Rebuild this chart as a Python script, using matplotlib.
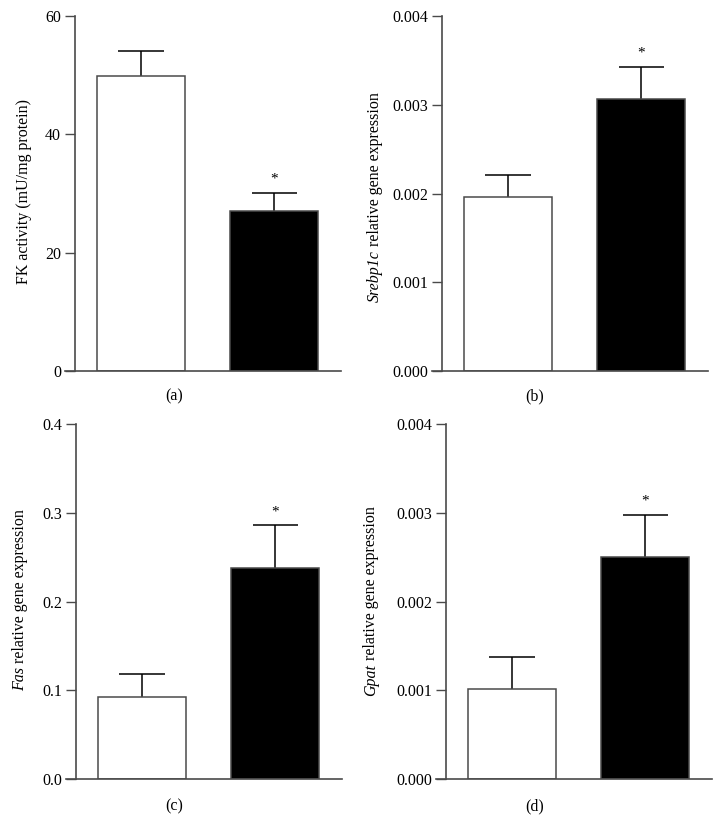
import matplotlib.pyplot as plt

plt.rcParams["font.family"] = ["Liberation Serif", "DejaVu Serif"]

# two groups per panel: control (white), treated (black)
fk_mean = [49.8, 27.0]
fk_err = [4.3, 3.1]

srebp_mean = [0.00196, 0.00306]
srebp_err = [0.00025, 0.00037]

fas_mean = [0.092, 0.238]
fas_err = [0.026, 0.048]

gpat_mean = [0.00101, 0.00250]
gpat_err = [0.00037, 0.00048]

panels = [
    ("(a)", fk_mean, fk_err, 60, [0, 20, 40, 60], "%d",
     "", "FK activity (mU/mg protein)"),
    ("(b)", srebp_mean, srebp_err, 0.004, [0, 0.001, 0.002, 0.003, 0.004], "%.3f",
     "Srebp1c", " relative gene expression"),
    ("(c)", fas_mean, fas_err, 0.4, [0, 0.1, 0.2, 0.3, 0.4], "%.1f",
     "Fas", " relative gene expression"),
    ("(d)", gpat_mean, gpat_err, 0.004, [0, 0.001, 0.002, 0.003, 0.004], "%.3f",
     "Gpat", " relative gene expression"),
]

W, H = 722, 839
fig = plt.figure(figsize=(W / 100, H / 100), dpi=100)
renderer = fig.canvas.get_renderer()

# pixel boxes: bottom line left/right, top, bottom, ylabel x/y, caption x/y
boxes = [
    (65, 341, 16, 371, 28, 192, 174, 396),
    (432, 708, 16, 371, 379, 197, 535, 396),
    (66, 342, 424, 779, 24, 600, 174, 806),
    (436, 712, 424, 779, 375, 601, 535, 806),
]

spine_col = "#4a4a4a"


def ylabel(x_px, y_px, ital, rest, size):
    # italic gene name followed by plain text, rotated, baseline at x_px
    kw = dict(rotation=90, rotation_mode="anchor", ha="left", va="baseline",
              fontsize=size)
    t1 = fig.text(0, 0, ital, style="italic", **kw)
    t2 = fig.text(0, 0, rest, **kw)
    l1 = t1.get_window_extent(renderer).height if ital else 0
    l2 = t2.get_window_extent(renderer).height
    start = (H - y_px) - (l1 + l2) / 2
    t1.set_position((x_px / W, start / H))
    t2.set_position((x_px / W, (start + l1) / H))


for (cap, mean, err, top, ticks, fmt, ital, rest), box in zip(panels, boxes):
    x0, x1, y0, y1, lx, ly, cx, cy = box
    ax = fig.add_axes([x0 / W, 1 - y1 / H, (x1 - x0) / W, (y1 - y0) / H])
    ax.bar([0, 1], mean, width=0.66, color=["white", "black"],
           edgecolor=spine_col, linewidth=1.1, zorder=2)
    tops = [m + e for m, e in zip(mean, err)]
    ax.vlines([0, 1], mean, tops, color="black", linewidth=1.1, zorder=1)
    ax.hlines(tops, [-0.17, 0.83], [0.17, 1.17], color="black", linewidth=1.1,
              zorder=1)
    ax.annotate("*", (1, tops[1]), xytext=(0, 5), textcoords="offset points",
                ha="center", va="bottom", fontsize=11)
    ax.set_xlim(-0.57, 1.5)
    ax.set_ylim(0, top)
    ax.set_yticks(ticks)
    ax.set_yticklabels([fmt % t for t in ticks])
    ax.set_xticks([])
    for s in ["top", "right"]:
        ax.spines[s].set_visible(False)
    ax.spines["left"].set_position(("data", -0.495))
    for s in ["left", "bottom"]:
        ax.spines[s].set_color(spine_col)
        ax.spines[s].set_linewidth(1.2)
    ax.tick_params(axis="y", direction="out", length=7, width=1.0,
                   color=spine_col, labelsize=11.5, pad=3)
    ax.patch.set_visible(False)
    ylabel(lx, ly, ital, rest, 11.5)
    fig.text(cx / W, 1 - cy / H, cap, ha="center", va="center", fontsize=11.5)

fig.savefig("out.png", dpi=100)
